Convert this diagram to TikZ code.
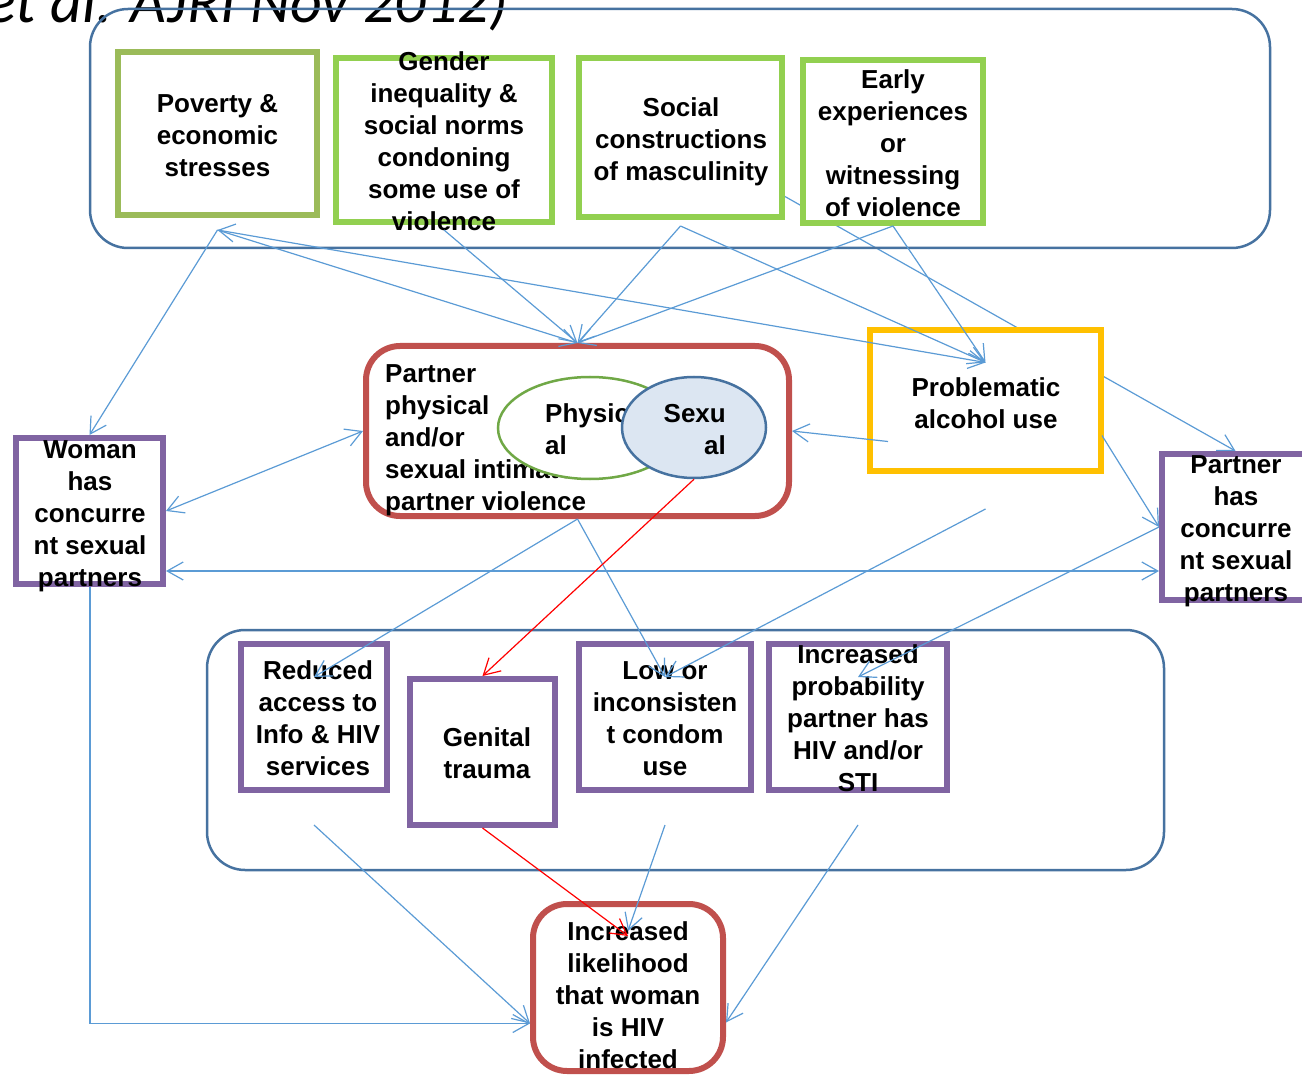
\documentclass[tikz,border=0pt]{standalone}
\usepackage{fontspec}
\setmainfont{Liberation Sans}
\newfontfamily\citefont{Carlito}
\usetikzlibrary{arrows.meta,shapes.geometric,backgrounds}
\definecolor{frameblue}{RGB}{70,114,160}
\definecolor{arrowblue}{RGB}{91,155,213}
\definecolor{olivegreen}{RGB}{155,187,89}
\definecolor{lightgreen}{RGB}{146,208,80}
\definecolor{ellgreen}{RGB}{112,168,70}
\definecolor{alcorange}{RGB}{255,192,0}
\definecolor{boxpurple}{RGB}{128,100,162}
\definecolor{boxred}{RGB}{192,80,77}
\definecolor{sexfill}{RGB}{220,230,242}

\begin{document}
\begin{tikzpicture}[x=1pt,y=1pt,
    >={Straight Barb[length=16pt,width=18pt]},
    frame/.style={draw=frameblue,line width=2.5pt,rounded corners=38pt,inner sep=0pt},
    box/.style={draw,line width=6pt,fill=white,inner sep=0pt},
    gbox/.style={box,draw=lightgreen},
    pbox/.style={box,draw=boxpurple},
    rbox/.style={box,draw=boxred,rounded corners=34pt},
    oval/.style={ellipse,line width=2.5pt,inner sep=0pt},
    lbl/.style={align=center,inner sep=0pt,yshift=-3pt,font=\bfseries\fontsize{26}{32}\selectfont},
    arr/.style={draw=arrowblue,line width=1.2pt,->},
    redarr/.style={arr,draw=red}]
    \useasboundingbox (0,0) rectangle (1302,-1075);

    \node (ttl) [anchor=base west,inner sep=0pt,font=\citefont\itshape\fontsize{62}{62}\selectfont] at (-14,-23) {et al. AJRI Nov 2012)};

    \node (top) [frame,minimum width=1180pt,minimum height=239pt] at (680,-128.5) {};
    \node (bot) [frame,minimum width=957pt,minimum height=240pt] at (685.5,-750) {};

    \node (pov) [box,draw=olivegreen,minimum width=199pt,minimum height=163pt] at (217.5,-133.5) {};
    \node (povt) [lbl] at (217.5,-132.5) {Poverty \&\\economic\\stresses};
    \node (gend) [gbox,minimum width=216pt,minimum height=164pt] at (444,-140) {};
    \node (gendt) [lbl] at (444,-138.5) {Gender\\inequality \&\\social norms\\condoning\\some use of\\violence};
    \node (soc) [gbox,minimum width=203pt,minimum height=159pt] at (680.5,-137.5) {};
    \node (soct) [lbl] at (681,-139) {Social\\constructions\\of masculinity};
    \node (early) [gbox,minimum width=180pt,minimum height=163pt] at (893,-141.5) {};
    \node (earlyt) [lbl] at (893,-140.5) {Early\\experiences\\or\\witnessing\\of violence};

    \node (ipv) [rbox,minimum width=423pt,minimum height=170pt] at (577.5,-431) {};
    \node (ipvt) [lbl,align=left,anchor=west] at (385,-437) {Partner\\physical\\and/or\\sexual intimate\\partner violence};
    \node (phys) [oval,draw=ellgreen,fill=white,minimum width=184pt,minimum height=102pt] at (590,-428) {};
    \node (physt) [lbl,align=left,anchor=west] at (545,-426.5) {Physic\\al};
    \node (sex) [oval,draw=frameblue,fill=sexfill,minimum width=144pt,minimum height=101pt] at (694,-427.5) {};
    \node (sext) [lbl,align=right,anchor=east] at (726,-426.5) {Sexu\\al};

    \node (alc) [box,draw=alcorange,minimum width=231pt,minimum height=141pt] at (985.5,-400.5) {};
    \node (alct) [lbl] at (986,-400.5) {Problematic\\alcohol use};

    \node (woman) [pbox,minimum width=147pt,minimum height=146pt] at (89.5,-511) {};
    \node (womant) [lbl] at (90,-513) {Woman\\has\\concurre\\nt sexual\\partners};
    \node (part) [pbox,minimum width=147pt,minimum height=146pt] at (1235.5,-527) {};
    \node (partt) [lbl] at (1236,-528) {Partner\\has\\concurre\\nt sexual\\partners};

    \node (reduced) [pbox,minimum width=146pt,minimum height=146pt] at (314,-717) {};
    \node (reducedt) [lbl] at (318,-715.5) {Reduced\\access to\\Info \& HIV\\services};
    \node (genital) [pbox,minimum width=145pt,minimum height=146pt] at (482.5,-752) {};
    \node (genitalt) [lbl] at (487,-750.5) {Genital\\trauma};
    \node (condom) [pbox,minimum width=172pt,minimum height=146pt] at (665,-717) {};
    \node (condomt) [lbl] at (665,-715.5) {Low or\\inconsisten\\t condom\\use};
    \node (prob) [pbox,minimum width=178pt,minimum height=146pt] at (858,-717) {};
    \node (probt) [lbl] at (858,-715.5) {Increased\\probability\\partner has\\HIV and/or\\STI};

    \node (hiv) [rbox,minimum width=190pt,minimum height=167pt] at (628,-987.5) {};
    \node (hivt) [lbl] at (628,-992.5) {Increased\\likelihood\\that woman\\is HIV\\infected};

    \begin{pgfonlayer}{background}
      \draw [arr] (soc.center) -- (part.north);
    \end{pgfonlayer}

    \draw [arr,<->] ([yshift=-12pt]pov.south) -- ([yshift=38pt]alc.center);
    \draw [arr] ([yshift=-12pt]pov.south) -- (ipv.north);
    \draw [arr] ([yshift=-12pt]pov.south) -- (woman.north);
    \draw [arr] ([yshift=-5pt]gend.south) -- (ipv.north);
    \draw [arr] ([yshift=-6pt]soc.south) -- (ipv.north);
    \draw [arr] ([yshift=-6pt]soc.south) -- ([yshift=38pt]alc.center);
    \draw [arr] (early.south) -- (ipv.north);
    \draw [arr] (early.south) -- ([yshift=38pt]alc.center);
    \draw [arr] ([xshift=21pt,yshift=-41pt]alc.west) -- (ipv.east);
    \draw [arr] ([xshift=-2pt,yshift=-35pt]alc.east) -- (part.west);
    \draw [arr,<->] (woman.east) -- (ipv.west);
    \draw [arr,<->] ([yshift=-60pt]woman.east) -- ([yshift=-44pt]part.west);
    \draw [arr] ([xshift=0.5pt]woman.south) |- ([yshift=-36pt]hiv.west);
    \draw [arr] (ipv.south) -- ([yshift=40pt]reduced.center);
    \draw [arr] (ipv.south) -- ([yshift=40pt]condom.center);
    \draw [arr] ([yshift=-35pt]alc.south) -- ([yshift=40pt]condom.center);
    \draw [redarr] (sex.south) -- (genital.north);
    \draw [arr] (part.west) -- ([yshift=40pt]prob.center);
    \draw [arr] ([yshift=-32pt]reduced.south) -- ([yshift=-36pt]hiv.west);
    \draw [redarr] (genital.south) -- ([yshift=-35pt]hiv.north);
    \draw [arr] ([yshift=-32pt]condom.south) -- ([yshift=-30pt]hiv.north);
    \draw [arr] ([yshift=-32pt]prob.south) -- ([yshift=-35pt]hiv.east);
\end{tikzpicture}
\end{document}
